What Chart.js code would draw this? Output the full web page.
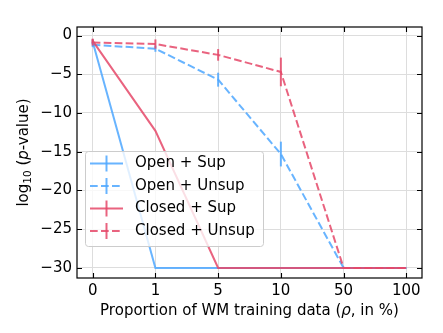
<!DOCTYPE html>
<html>
<head>
<meta charset="utf-8">
<script src="https://cdn.jsdelivr.net/npm/chart.js@4/dist/chart.umd.min.js"></script>
<style>
  html, body { margin: 0; padding: 0; background: #fff; }
  #wrap { width: 443px; height: 333px; position: relative; }
</style>
</head>
<body>
<div id="wrap"><canvas id="pvalChart" width="443" height="333"></canvas></div>
<script>
const categories = ["0", "1", "5", "10", "50", "100"];
const yTicks = [0, -5, -10, -15, -20, -25, -30];

const openSup = [-0.8, -30, -30, -30, -30, -30];
const openUnsup = [-1.2, -1.7, -5.7, -15.3, -30, -30];
const closedSup = [-0.7, -12.3, -30, -30, -30, -30];
const closedUnsup = [-0.9, -1.1, -2.5, -4.7, -30, -30];

const openSupErr = [0.3, 0, 0, 0, 0, 0];
const openUnsupErr = [0.3, 0.4, 0.9, 1.6, 0, 0];
const closedSupErr = [0.3, 0, 0, 0, 0, 0];
const closedUnsupErr = [0.4, 0.6, 0.75, 1.85, 0, 0];

const BLUE = "rgba(78,167,255,0.85)";
const RED = "rgba(229,72,105,0.85)";
const DASH = [7.7, 3.3];
const FONT = "'DejaVu Sans', sans-serif";
const FS = 15;

function series(label, values, errs, color, dashed, order) {
  return {
    label: label,
    data: values.map((v, i) => ({ x: i, y: v })),
    errors: errs,
    borderColor: color,
    backgroundColor: color,
    borderWidth: 2,
    borderDash: dashed ? DASH : [],
    pointRadius: 0,
    tension: 0,
    fill: false,
    order: order
  };
}

// vertical error bars at every point
const errorBars = {
  id: "errorBars",
  afterDatasetsDraw(chart) {
    const ctx = chart.ctx;
    const xs = chart.scales.x, ys = chart.scales.y;
    chart.data.datasets.forEach(ds => {
      ctx.save();
      ctx.strokeStyle = ds.borderColor;
      ctx.lineWidth = 2;
      ds.data.forEach((p, i) => {
        const e = ds.errors[i];
        if (!e) return;
        const px = xs.getPixelForValue(p.x);
        ctx.beginPath();
        ctx.moveTo(px, ys.getPixelForValue(p.y + e));
        ctx.lineTo(px, ys.getPixelForValue(p.y - e));
        ctx.stroke();
      });
      ctx.restore();
    });
  }
};

function drawRuns(ctx, runs, x, y, align) {
  // runs: [text, size, italic, dy]
  let total = 0;
  runs.forEach(r => {
    ctx.font = (r[2] ? "italic " : "") + r[1] + "px " + FONT;
    total += ctx.measureText(r[0]).width;
  });
  let cx = align === "center" ? x - total / 2 : x;
  runs.forEach(r => {
    ctx.font = (r[2] ? "italic " : "") + r[1] + "px " + FONT;
    ctx.fillText(r[0], cx, y + (r[3] || 0));
    cx += ctx.measureText(r[0]).width;
  });
}

// frame, inward ticks on all sides, axis titles, legend
const frame = {
  id: "frame",
  afterDraw(chart) {
    const ctx = chart.ctx;
    const a = chart.chartArea;
    const xs = chart.scales.x, ys = chart.scales.y;
    const tl = 5;
    ctx.save();
    ctx.strokeStyle = "#000";
    ctx.lineWidth = 1.2;
    ctx.strokeRect(a.left, a.top, a.right - a.left, a.bottom - a.top);
    ctx.lineWidth = 1.1;
    ctx.beginPath();
    xs.ticks.forEach(t => {
      const px = Math.round(xs.getPixelForValue(t.value)) + 0.5;
      ctx.moveTo(px, a.bottom); ctx.lineTo(px, a.bottom - tl);
      ctx.moveTo(px, a.top); ctx.lineTo(px, a.top + tl);
    });
    ys.ticks.forEach(t => {
      const py = Math.round(ys.getPixelForValue(t.value)) + 0.5;
      ctx.moveTo(a.left, py); ctx.lineTo(a.left + tl, py);
      ctx.moveTo(a.right, py); ctx.lineTo(a.right - tl, py);
    });
    ctx.stroke();

    ctx.fillStyle = "#000";
    ctx.textBaseline = "middle";
    ctx.textAlign = "left";
    drawRuns(ctx, [
      ["Proportion of WM training data (", FS, false],
      ["\u03c1", FS, true],
      [", in %)", FS, false]
    ], (a.left + a.right) / 2, 311, "center");

    ctx.save();
    ctx.translate(24, (a.top + a.bottom) / 2);
    ctx.rotate(-Math.PI / 2);
    drawRuns(ctx, [
      ["log", FS, false],
      ["10", 10.5, false, 4],
      [" (", FS, false],
      ["p", FS, true],
      ["-value)", FS, false]
    ], 0, 0, "center");
    ctx.restore();

    // legend
    const bx = 85, by = 151, bw = 178, bh = 95;
    ctx.beginPath();
    ctx.roundRect(bx + 0.5, by + 0.5, bw, bh, 3);
    ctx.fillStyle = "rgba(255,255,255,0.8)";
    ctx.fill();
    ctx.strokeStyle = "#cccccc";
    ctx.lineWidth = 1;
    ctx.stroke();
    chart.data.datasets.forEach((ds, i) => {
      const ry = by + 12.5 + i * 22.5;
      ctx.strokeStyle = ds.borderColor;
      ctx.lineWidth = 2;
      ctx.setLineDash(ds.borderDash);
      ctx.beginPath();
      ctx.moveTo(bx + 5, ry); ctx.lineTo(bx + 38, ry);
      ctx.stroke();
      ctx.setLineDash([]);
      ctx.beginPath();
      ctx.moveTo(bx + 21.5, ry - 8); ctx.lineTo(bx + 21.5, ry + 8);
      ctx.stroke();
      ctx.fillStyle = "#000";
      ctx.font = FS + "px " + FONT;
      ctx.fillText(ds.label, bx + 50, ry);
    });
    ctx.restore();
  }
};

new Chart(document.getElementById("pvalChart"), {
  type: "line",
  data: {
    datasets: [
      series("Open + Sup", openSup, openSupErr, BLUE, false, 4),
      series("Open + Unsup", openUnsup, openUnsupErr, BLUE, true, 3),
      series("Closed + Sup", closedSup, closedSupErr, RED, false, 2),
      series("Closed + Unsup", closedUnsup, closedUnsupErr, RED, true, 1)
    ]
  },
  options: {
    responsive: false,
    animation: false,
    layout: { padding: { top: 27, right: 21, left: 0, bottom: 0 } },
    plugins: { legend: { display: false }, tooltip: { enabled: false } },
    scales: {
      x: {
        type: "linear",
        min: -0.25,
        max: 5.25,
        afterBuildTicks: s => { s.ticks = categories.map((_, i) => ({ value: i })); },
        afterFit: s => { s.height = 55; },
        grid: { color: "#dddddd", lineWidth: 1, drawTicks: false },
        border: { display: false },
        ticks: {
          padding: 4,
          color: "#000",
          font: { family: FONT, size: FS },
          maxRotation: 0,
          callback: v => categories[v]
        }
      },
      y: {
        min: -31.3,
        max: 1.1,
        afterBuildTicks: s => { s.ticks = yTicks.map(v => ({ value: v })); },
        afterFit: s => { s.width = 77; },
        grid: { color: "#dddddd", lineWidth: 1, drawTicks: false },
        border: { display: false },
        ticks: {
          padding: 5,
          color: "#000",
          font: { family: FONT, size: FS },
          callback: v => String(v).replace("-", "\u2212")
        }
      }
    }
  },
  plugins: [errorBars, frame]
});
</script>
</body>
</html>
